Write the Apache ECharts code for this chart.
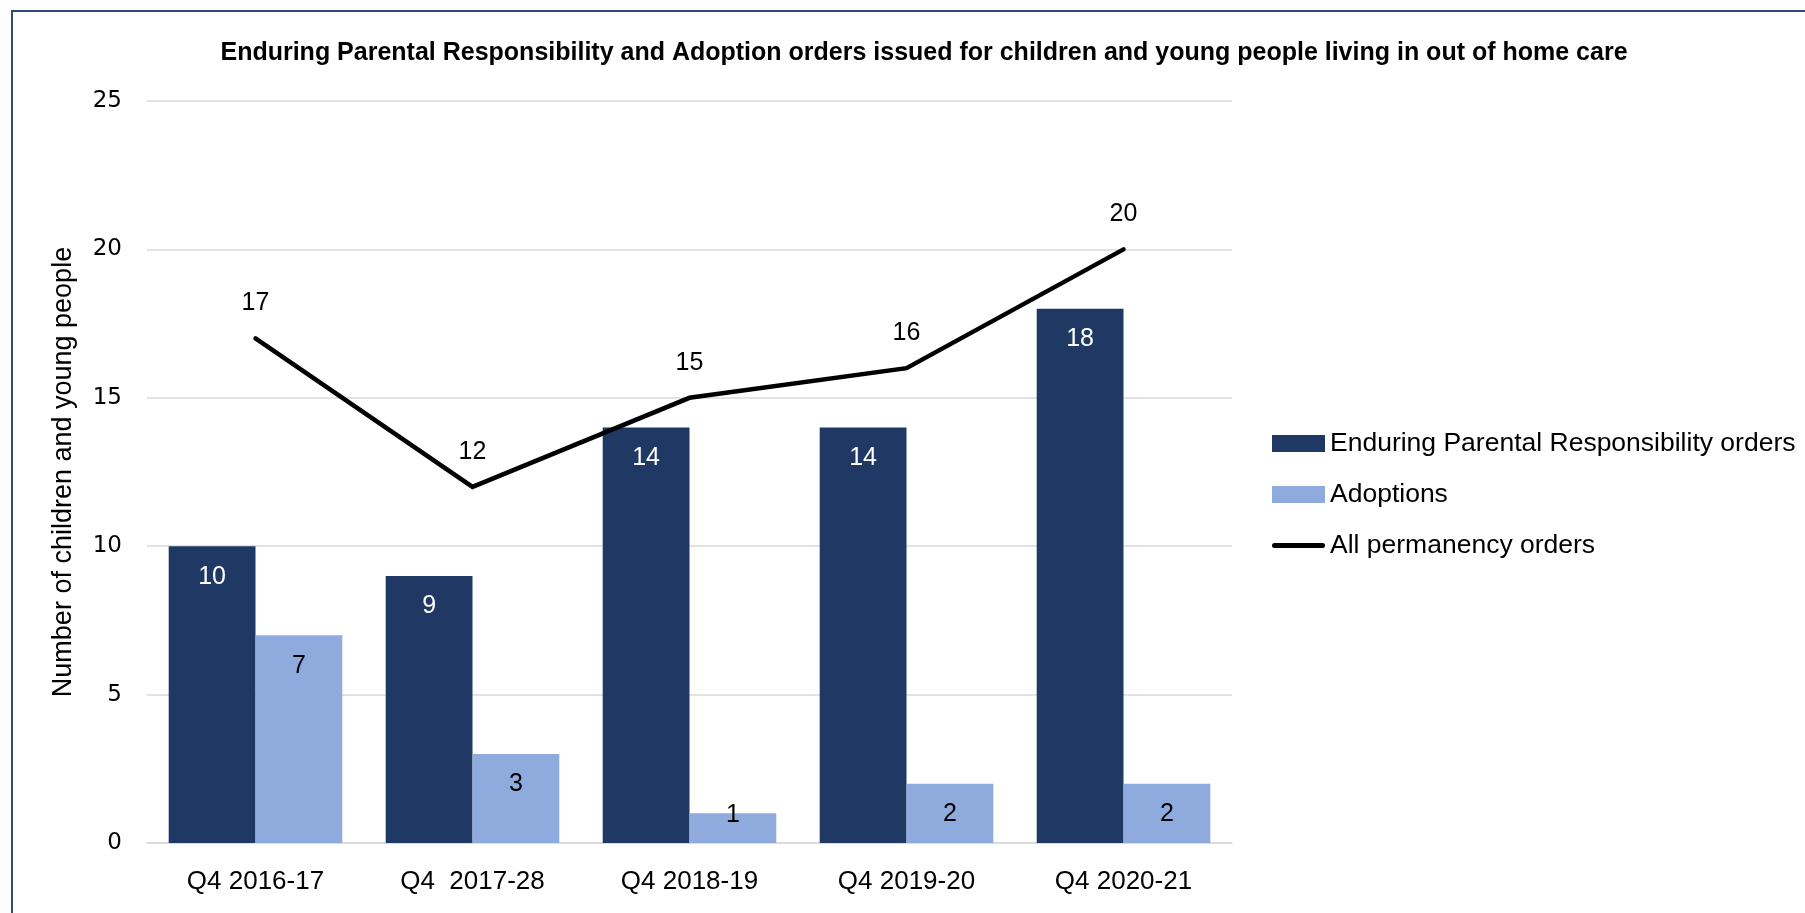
<!DOCTYPE html>
<html>
<head>
<meta charset="utf-8">
<script src="https://cdn.jsdelivr.net/npm/echarts@6/dist/echarts.min.js"></script>
<style>
html,body{margin:0;padding:0;background:#fff;}
#chart{width:1805px;height:913px;}
</style>
</head>
<body>
<div id="chart"></div>
<script>
const titleText = 'Enduring Parental Responsibility and Adoption orders issued for children and young people living in out of home care';
const categories = ['Q4 2016-17', 'Q4  2017-28', 'Q4 2018-19', 'Q4 2019-20', 'Q4 2020-21'];
const eprOrders = [10, 9, 14, 14, 18];
const adoptions = [7, 3, 1, 2, 2];
const allPermanency = [17, 12, 15, 16, 20];
const seriesNames = ['Enduring Parental Responsibility orders', 'Adoptions', 'All permanency orders'];
const yAxisName = 'Number of children and young people';

const FONT = '"Liberation Sans", Arial, sans-serif';
const chart = echarts.init(document.getElementById('chart'), null, {renderer: 'canvas'});

const option = {
  backgroundColor: '#ffffff',
  animation: false,
  textStyle: {fontFamily: FONT},
  graphic: [{
    type: 'polyline',
    shape: {points: [[12, 913], [12, 11], [1805, 11]]},
    style: {stroke: '#2F4A7C', lineWidth: 2, fill: null},
    silent: true
  }],
  title: {
    text: titleText,
    left: 919,
    textAlign: 'center',
    top: 36,
    textStyle: {fontFamily: FONT, fontWeight: 'bold', fontSize: 25, color: '#000'}
  },
  legend: {
    orient: 'vertical',
    left: 1267,
    top: 425,
    itemWidth: 53,
    itemHeight: 17,
    itemGap: 24,
    textStyle: {fontFamily: FONT, fontSize: 26.5, color: '#000', padding: [0, 0, 0, 0]},
    data: [
      {name: seriesNames[0], icon: 'rect'},
      {name: seriesNames[1], icon: 'rect'},
      {name: seriesNames[2], icon: 'path://M2.5,0 L50.5,0 A2.5,2.5 0 0 1 50.5,5 L2.5,5 A2.5,2.5 0 0 1 2.5,0 Z', itemStyle: {color: '#000'}}
    ]
  },
  grid: {left: 147, right: 573, top: 101, bottom: 70, containLabel: false},
  xAxis: {
    type: 'category',
    data: categories,
    axisLine: {lineStyle: {color: '#D9D9D9', width: 1.5}},
    axisTick: {show: false},
    axisLabel: {fontFamily: FONT, fontSize: 26, color: '#000', margin: 26}
  },
  yAxis: {
    type: 'value',
    min: 0, max: 25, interval: 5,
    name: yAxisName,
    nameLocation: 'middle',
    nameGap: 70,
    nameTextStyle: {fontFamily: FONT, fontSize: 27, color: '#000'},
    axisLine: {show: false},
    axisTick: {show: false},
    axisLabel: {fontFamily: '"DejaVu Sans", sans-serif', fontSize: 23, color: '#000', margin: 25},
    splitLine: {lineStyle: {color: '#D9D9D9', width: 1.5}}
  },
  series: [
    {
      name: seriesNames[0],
      type: 'bar',
      data: eprOrders,
      barGap: '0%',
      barCategoryGap: '20%',
      itemStyle: {color: '#203864'},
      label: {show: true, position: 'insideTop', distance: 18, fontFamily: FONT, fontSize: 25, color: '#fff'}
    },
    {
      name: seriesNames[1],
      type: 'bar',
      data: adoptions.map(v => v < 2 ? {value: v, label: {position: 'top', distance: -14}} : v),
      itemStyle: {color: '#8FAADC'},
      label: {show: true, position: 'insideTop', distance: 18, fontFamily: FONT, fontSize: 25, color: '#000'}
    },
    {
      name: seriesNames[2],
      type: 'line',
      data: allPermanency,
      symbol: 'circle',
      symbolSize: 1,
      showSymbol: true,
      z: 5,
      lineStyle: {color: '#000', width: 4.5, cap: 'round', join: 'miter'},
      itemStyle: {color: 'rgba(0,0,0,0)'},
      label: {show: true, position: 'top', distance: 22, fontFamily: FONT, fontSize: 25, color: '#000'}
    }
  ]
};
chart.setOption(option);
</script>
</body>
</html>
